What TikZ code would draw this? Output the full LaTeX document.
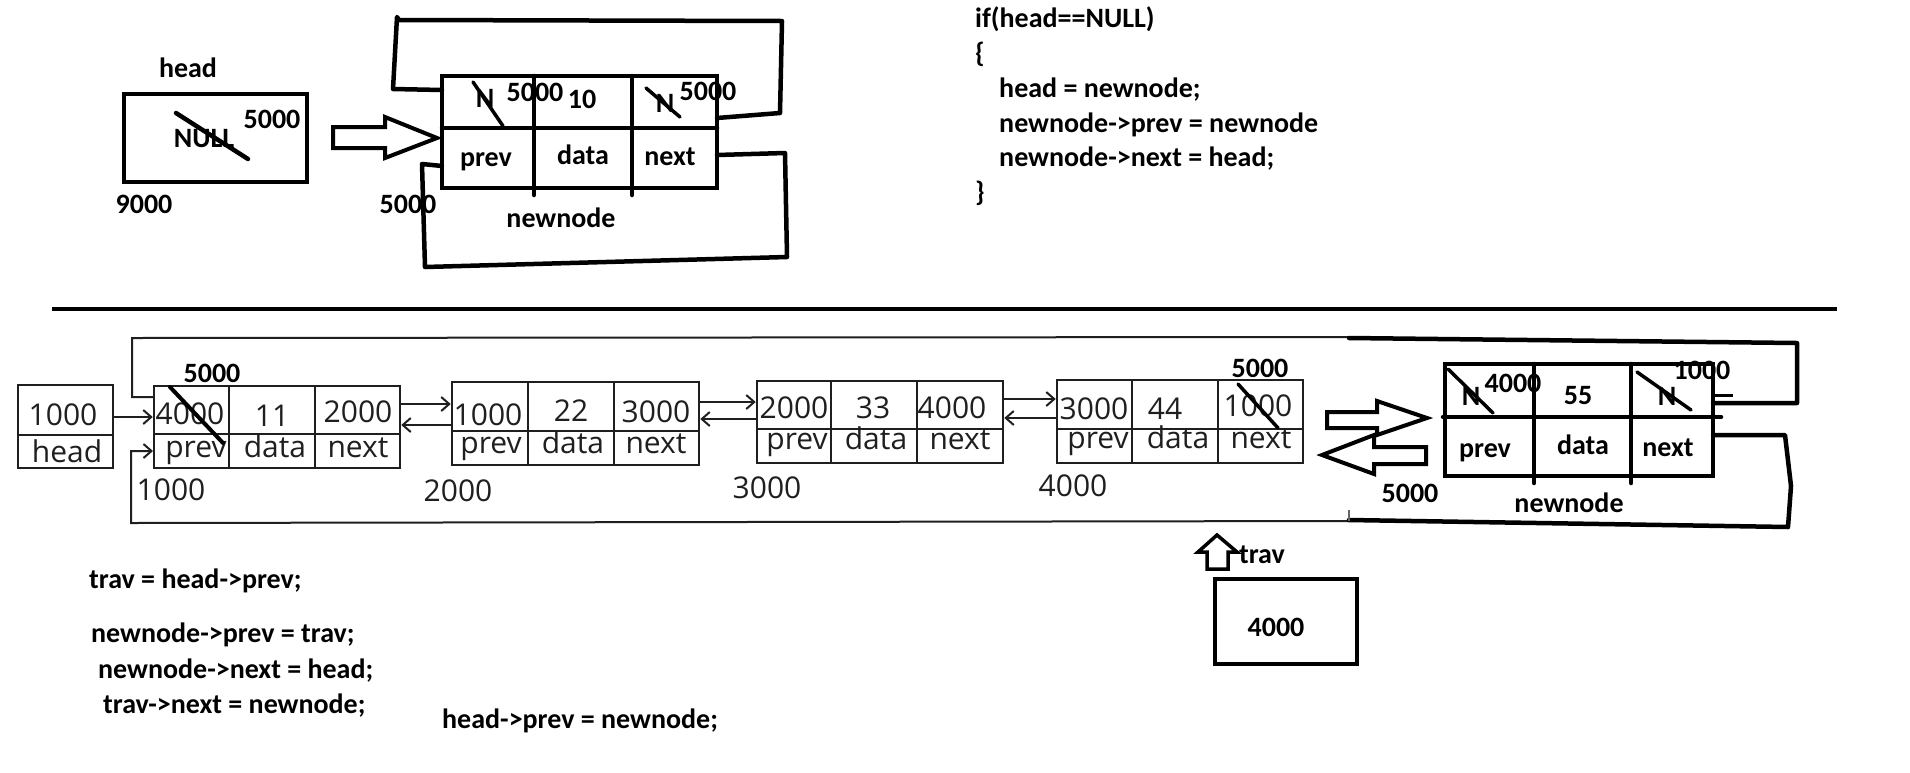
\documentclass[tikz,border=0pt]{standalone}
\usepackage{fontspec}
\newfontfamily\calfont{Carlito}
\newfontfamily\lstfont{Open Sans}
\usetikzlibrary{arrows.meta}
\tikzset{
  bl/.style={font=\calfont\bfseries\fontsize{28}{33}\selectfont, inner sep=0pt, anchor=base},
  ll/.style={font=\lstfont\fontsize{30}{36}\selectfont, inner sep=0pt, anchor=base, text=black!88},
  thickln/.style={line width=4.5pt, line cap=round, line join=round},
  thinln/.style={line width=2pt, draw=black!88},
  cellbox/.style={draw=black!88, line width=2.5pt, inner sep=0pt},
  bigbox/.style={draw, line width=4.5pt, inner sep=0pt},
  hollow/.style={draw, line width=4pt, line join=miter, fill=white},
  smallarr/.style={line width=2pt, draw=black!88, -{Straight Barb[length=8pt,width=14pt,line width=2pt]}},
}
\begin{document}
\begin{tikzpicture}[x=1pt,y=-1pt]
\useasboundingbox (0,0) rectangle (1910,772);
\fill[white] (0,0) rectangle (1910,772);

% ================= top part =================
\node[bigbox, minimum width=183pt, minimum height=88pt] (hbox) at (215.5,138) {};
\node[bl] (hlab) at (188,77) {head};
\node[bl] (null) at (204,147) {NULL};
\draw[thickln] (176,113) -- (248,159);
\node[bl] (h5000) at (272,128) {5000};
\node[bl] (n9000) at (144,213) {9000};

% hollow arrow
\draw[hollow] (333,127) -- (385,127) -- (385,117) -- (437,138) -- (385,158) -- (385,148) -- (333,148) -- cycle;

% newnode (single)
\node[bigbox, minimum width=275pt, minimum height=112pt] (nn) at (579.5,132) {};
\draw[thickln] (442,128) -- (717,128);
\draw[thickln] (534,76) -- (534,195);
\draw[thickln] (632,76) -- (632,195);
\node[bl] (nnN1) at (485,107) {N};
\draw[thickln, line width=3.5pt] (473,82) -- (503,126);
\node[bl] (nn5a) at (535,101) {5000};
\node[bl] (nn10) at (582,108) {10};
\node[bl] (nnN2) at (665,112) {N};
\draw[thickln, line width=3.5pt] (646,88) -- (680,117);
\node[bl] (nn5b) at (708,100) {5000};
\node[bl] (nnprev) at (486,166) {prev};
\node[bl] (nndata) at (583,164) {data};
\node[bl] (nnnext) at (670,165) {next};
\node[bl] (nn5c) at (408,213) {5000};
\node[bl] (nnlab) at (561,227) {newnode};

% loops
\coordinate (tl1) at (717,118);
\coordinate (tl2) at (442,90);
\draw[thickln] (tl1) -- (780,113) -- (782,21) -- (399,20) -- (397,17) -- (393,89) -- (tl2);
\coordinate (bl1) at (717,155);
\coordinate (bl2) at (442,166);
\draw[thickln] (bl1) -- (785,153) -- (787,257) -- (425,267) -- (422,164) -- (bl2);

% code top right
\node[bl, anchor=base west] (c1) at (975,27) {if(head==NULL)};
\node[bl, anchor=base west] (c2) at (975,62) {\{};
\node[bl, anchor=base west] (c3) at (999,97) {head = newnode;};
\node[bl, anchor=base west] (c4) at (999,132) {newnode->prev = newnode};
\node[bl, anchor=base west] (c5) at (999,166) {newnode->next = head;};
\node[bl, anchor=base west] (c6) at (975,201) {\}};

% separator
\draw[line width=3.5pt] (52,309) -- (1837,309);

% ================= list =================
% loop lines
\draw[thinln] (1349,337) -- (132,338) -- (132,397) -- (154,397);
\draw[thickln] (1349,338) -- (1797,343) -- (1797,403) -- (1713,403);
\draw[line width=3pt] (1715,395) -- (1733,395);
\draw[smallarr] (1349,521) -- (131,523) -- (131,451) -- (153,451);
\draw[thickln] (1713,435) -- (1785,435) -- (1791,486) -- (1788,527) -- (1349,520);
\draw[line width=2pt, draw=black!60] (1349,510) -- (1349,521);

% head box
\node[cellbox, minimum width=95pt, minimum height=83pt] (lhead) at (65.5,426.5) {};
\draw[line width=2.5pt, draw=black!88] (18,435) -- (113,435);
\node[ll] (lh1) at (63,425) {1000};
\node[ll] (lh2) at (67,462) {head};

% node 1
\node[cellbox, minimum width=246pt, minimum height=82pt] (n1) at (277,427) {};
\draw[line width=2.5pt, draw=black!88] (154,434) -- (400,434) (229,386) -- (229,468) (315,386) -- (315,468);
\node[ll] (n1a) at (190,424) {4000};
\node[ll] (n1b) at (272,426) {11};
\node[ll] (n1c) at (358,422) {2000};
\node[ll] (n1d) at (196,457) {prev};
\node[ll] (n1e) at (275,457) {data};
\node[ll] (n1f) at (358,457) {next};
\node[ll] (n1g) at (171,500) {1000};
\node[bl] (n1h) at (212,382) {5000};
\draw[thickln, line width=4pt] (170,387) -- (223,443);

% node 2
\node[cellbox, minimum width=247pt, minimum height=83pt] (n2) at (575.5,423.5) {};
\draw[line width=2.5pt, draw=black!88] (452,431) -- (699,431) (528,382) -- (528,465) (614,382) -- (614,465);
\node[ll] (n2a) at (488,425) {1000};
\node[ll] (n2b) at (571,421) {22};
\node[ll] (n2c) at (656,422) {3000};
\node[ll] (n2d) at (491,453) {prev};
\node[ll] (n2e) at (573,453) {data};
\node[ll] (n2f) at (656,453) {next};
\node[ll] (n2g) at (458,501) {2000};

% node 3
\node[cellbox, minimum width=246pt, minimum height=82pt] (n3) at (880,422) {};
\draw[line width=2.5pt, draw=black!88] (757,429) -- (1003,429) (831,381) -- (831,463) (917,381) -- (917,463);
\node[ll] (n3a) at (794,418) {2000};
\node[ll] (n3b) at (873,418) {33};
\node[ll] (n3c) at (952,418) {4000};
\node[ll] (n3d) at (797,449) {prev};
\node[ll] (n3e) at (876,449) {data};
\node[ll] (n3f) at (960,449) {next};
\node[ll] (n3g) at (767,498) {3000};

% node 4
\node[cellbox, minimum width=246pt, minimum height=83pt] (n4) at (1180,421.5) {};
\draw[line width=2.5pt, draw=black!88] (1057,429) -- (1303,429) (1132,380) -- (1132,463) (1218,380) -- (1218,463);
\node[ll] (n4a) at (1094,419) {3000};
\node[ll] (n4b) at (1165,419) {44};
\node[ll] (n4c) at (1258,416) {1000};
\node[ll] (n4d) at (1098,448) {prev};
\node[ll] (n4e) at (1178,448) {data};
\node[ll] (n4f) at (1261,448) {next};
\node[ll] (n4g) at (1073,496) {4000};
\node[bl] (n4h) at (1260,377) {5000};
\draw[thickln, line width=3.5pt] (1238,384) -- (1278,428);

% arrows between nodes
\draw[smallarr] (lhead.east |- 0,417) -- (n1.west |- 0,417);
\draw[smallarr] (n1.east |- 0,404) -- (n2.west |- 0,404);
\draw[smallarr] (n2.west |- 0,425) -- (n1.east |- 0,425);
\draw[smallarr] (n2.east |- 0,402) -- (n3.west |- 0,402);
\draw[smallarr] (n3.west |- 0,419) -- (n2.east |- 0,419);
\draw[smallarr] (n3.east |- 0,399) -- (n4.west |- 0,399);
\draw[smallarr] (n4.west |- 0,418) -- (n3.east |- 0,418);

% hollow arrows to/from new node
\draw[hollow] (1327,412) -- (1377,412) -- (1377,401) -- (1427,418) -- (1377,435) -- (1377,428) -- (1327,428) -- cycle;
\draw[hollow] (1426,447) -- (1374,447) -- (1374,435) -- (1322,455) -- (1374,474) -- (1374,464) -- (1426,464) -- cycle;
\node[bl] (nw5000) at (1410,502) {5000};

% new node
\node[bigbox, minimum width=268pt, minimum height=112pt] (nw) at (1579,420) {};
\draw[thickln] (1443,417) -- (1721,417);
\draw[thickln] (1534,364) -- (1534,483);
\draw[thickln] (1631,364) -- (1631,483);
\node[bl] (nwN1) at (1471,405) {N};
\draw[thickln, line width=3.5pt] (1448,369) -- (1493,413);
\node[bl] (nw4000) at (1513,392) {4000};
\node[bl] (nw55) at (1578,404) {55};
\node[bl] (nwN2) at (1667,405) {N};
\draw[thickln, line width=3.5pt] (1637,372) -- (1691,410);
\node[bl] (nw1000) at (1702,379) {1000};
\node[bl] (nwprev) at (1485,457) {prev};
\node[bl] (nwdata) at (1583,454) {data};
\node[bl] (nwnext) at (1668,456) {next};
\node[bl] (nwlab) at (1569,512) {newnode};

% trav
\node[bigbox, line width=4pt, minimum width=142pt, minimum height=85pt] (trav) at (1286,621.5) {};
\node[bl] (travval) at (1276,636) {4000};
\draw[hollow, line width=3.5pt] (1207,569) -- (1207,552) -- (1198,552) -- (1217,535) -- (1237,552) -- (1228,552) -- (1228,569) -- cycle;
\node[bl] (travlab) at (1262,563) {trav};

% bottom code
\node[bl, anchor=base west] (d1) at (89,588) {trav = head->prev;};
\node[bl, anchor=base west] (d2) at (91,642) {newnode->prev = trav;};
\node[bl, anchor=base west] (d3) at (98,678) {newnode->next = head;};
\node[bl, anchor=base west] (d4) at (103,713) {trav->next = newnode;};
\node[bl, anchor=base west] (d5) at (442,728) {head->prev = newnode;};
\end{tikzpicture}
\end{document}
